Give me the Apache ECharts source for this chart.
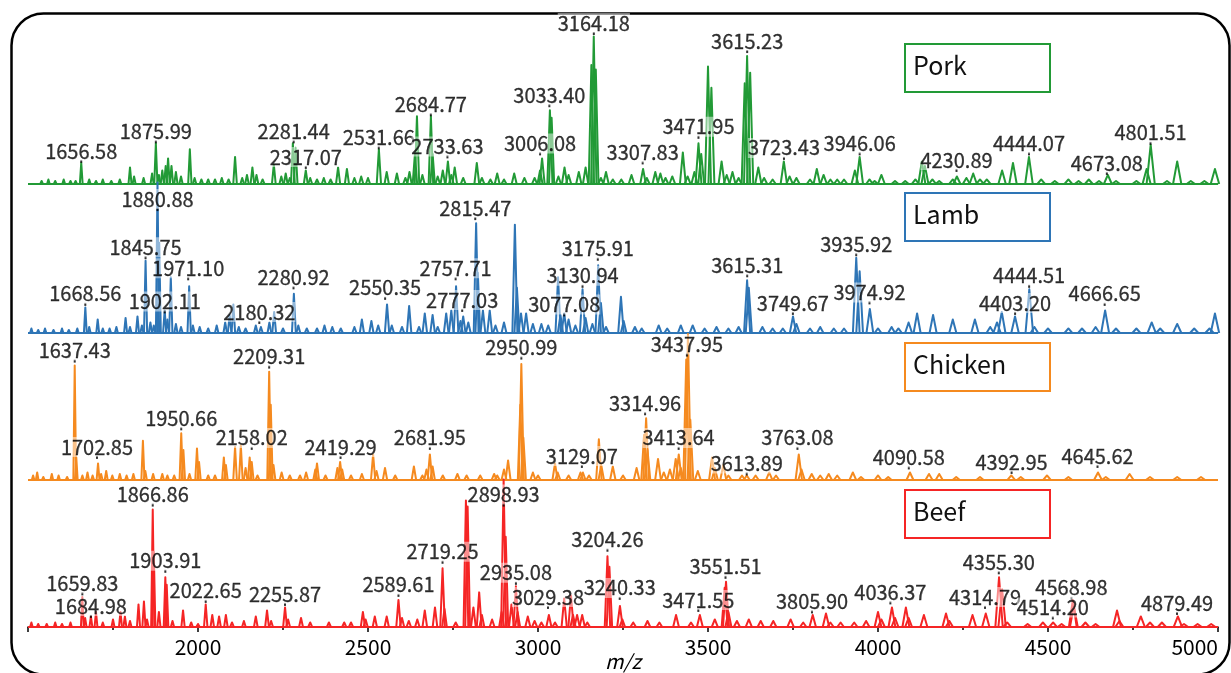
<!DOCTYPE html>
<html>
<head>
<meta charset="utf-8">
<title>MALDI-TOF spectra of meat</title>
<script src="https://cdn.jsdelivr.net/npm/echarts@6/dist/echarts.min.js"></script>
<style>
  html, body { margin: 0; padding: 0; background: #fff; }
  #chart { width: 1231px; height: 673px; }
</style>
</head>
<body>
<div id="chart"></div>
<script>
// m/z axis
var xMin = 1500, xMax = 5000, xStep = 500;

var sampleNames = ['Pork', 'Lamb', 'Chicken', 'Beef'];

// peaks as [m/z, relative intensity]
var porkPeaks = [[1540,2],[1560,3],[1580,2],[1605,3],[1625,2],[1640,2],[1656.6,14],[1680,3],[1700,2],[1720,3],[1745,2],[1770,3],
  [1800,11],[1812,5],[1840,4],[1865,7],[1876,27],[1885,6],[1895,9],[1905,12],[1912,17],[1922,12],[1935,8],[1950,5],[1976,23],
  [1990,4],[2010,3],[2030,3],[2050,3],[2070,4],[2090,3],[2109,18],[2130,4],[2144,6],[2160,11],[2172,6],[2190,3],[2223,13],
  [2245,5],[2258,7],[2270,4],[2279,27],[2287,24],[2317,9],[2330,4],[2350,3],[2370,4],[2390,3],[2412,11],[2438,10],[2460,4],
  [2480,5],[2500,4],[2532,23],[2555,8],[2585,7],[2610,4],[2622,8],[2638,20],[2644,45],[2660,6],[2685,45],[2690,20],[2705,5],
  [2720,9],[2735,15],[2745,6],[2755,11],[2780,4],[2820,14],[2835,4],[2860,3],[2880,7],[2900,3],[2930,7],[2960,4],[2990,4],
  [3006,9],[3012,17],[3035,49],[3040,44],[3060,5],[3078,11],[3090,6],[3120,8],[3140,11],[3157,79],[3164,98],[3170,76],[3185,4],
  [3200,8],[3220,3],[3245,3],[3275,6],[3309,10],[3320,4],[3345,8],[3360,7],[3375,4],[3395,5],[3426,21],[3440,5],[3460,8],
  [3472,27],[3480,20],[3500,78],[3510,64],[3540,15],[3555,6],[3572,8],[3590,4],[3608,67],[3615,85],[3624,74],[3648,11],
  [3665,4],[3690,3],[3723,15],[3740,5],[3760,4],[3800,3],[3820,10],[3840,6],[3860,3],[3880,3],[3900,3],[3932,9],[3946,18],
  [3975,3],[3990,2],[4010,6],[4050,2],[4080,2],[4110,3],[4129,15],[4138,12],[4160,3],[4180,2],[4220,3],[4232,5],[4260,4],
  [4280,7],[4300,3],[4320,3],[4365,9],[4397,14],[4444,18],[4480,3],[4520,2],[4560,3],[4590,2],[4620,3],[4650,2],[4676,6],
  [4700,2],[4760,2],[4790,10],[4802,26],[4850,2],[4880,15],[4920,2],[4960,2],[4991,10]];
var lambPeaks = [[1510,3],[1530,2],[1550,3],[1575,2],[1600,3],[1620,2],[1645,3],[1668.6,17],[1680,4],[1705,9],[1720,3],[1740,3],
  [1760,4],[1787,10],[1800,4],[1822,11],[1835,5],[1845.8,48],[1860,7],[1870,5],[1880.9,100],[1886,60],[1902,15],[1910,9],
  [1920,37],[1935,6],[1950,4],[1974,31],[1985,5],[2005,4],[2030,3],[2055,5],[2080,7],[2093,12],[2104,19],[2120,4],[2140,3],
  [2170,5],[2185,4],[2210,7],[2224,14],[2250,3],[2282,26],[2295,5],[2320,3],[2350,3],[2372,5],[2395,4],[2420,3],[2460,4],
  [2482,9],[2510,8],[2530,5],[2556,19],[2570,5],[2600,4],[2621,18],[2650,4],[2667,13],[2690,12],[2705,4],[2730,13],[2745,15],
  [2759,31],[2772,8],[2780,11],[2795,7],[2818,73],[2823,40],[2838,15],[2858,15],[2875,5],[2900,7],[2932,72],[2938,30],
  [2950,13],[2965,13],[2985,6],[3010,6],[3030,5],[3059,37],[3066,12],[3077,13],[3090,9],[3110,5],[3131,29],[3140,10],[3160,6],
  [3177,45],[3185,20],[3200,4],[3244,24],[3252,8],[3285,4],[3305,3],[3355,5],[3380,3],[3420,5],[3455,5],[3490,3],[3525,4],
  [3560,3],[3590,4],[3615,35],[3620,30],[3660,4],[3690,3],[3720,3],[3750,11],[3760,6],[3800,3],[3830,4],[3870,3],[3900,3],
  [3936,50],[3946,41],[3976,16],[4000,3],[4040,4],[4060,3],[4090,7],[4115,13],[4162,12],[4220,9],[4285,9],[4330,4],[4350,7],
  [4364,14],[4403,11],[4445,29],[4460,4],[4500,3],[4560,3],[4600,3],[4640,4],[4668,15],[4700,3],[4760,3],[4805,7],[4830,3],
  [4880,6],[4930,3],[4975,3],[4991,13]];
var chickenPeaks = [[1515,3],[1527,5],[1545,2],[1570,4],[1590,3],[1615,2],[1637.4,76],[1642,15],[1660,3],[1675,5],[1690,3],
  [1706,11],[1715,4],[1730,6],[1748,3],[1770,4],[1790,3],[1810,4],[1838,26],[1845,6],[1868,4],[1895,4],[1910,3],[1930,3],
  [1950.7,31],[1957,20],[1975,4],[1997,21],[2003,12],[2030,3],[2050,3],[2076,15],[2082,10],[2109,22],[2126,23],[2140,8],
  [2152,15],[2158,12],[2175,3],[2209.3,72],[2214,50],[2222,10],[2246,5],[2270,3],[2300,3],[2318,5],[2345,7],[2350,11],
  [2375,3],[2410,8],[2418,12],[2424,7],[2450,3],[2482,4],[2515,17],[2525,6],[2550,8],[2580,3],[2635,9],[2660,3],[2672,7],
  [2682,17],[2690,9],[2720,3],[2763,4],[2790,3],[2830,3],[2871,4],[2880,3],[2900,7],[2912,13],[2948,50],[2951,77],[2957,28],
  [2985,5],[3000,3],[3050,11],[3058,5],[3090,3],[3125,5],[3132,5],[3150,3],[3179,27],[3186,10],[3220,9],[3250,3],[3290,8],
  [3312,30],[3318,41],[3322,20],[3353,14],[3370,5],[3388,7],[3405,14],[3414,17],[3420,8],[3436,80],[3441,97],[3448,40],
  [3470,6],[3512,15],[3520,8],[3545,10],[3560,3],[3600,3],[3614,3],[3640,3],[3680,5],[3700,3],[3767,17],[3775,7],[3805,4],
  [3830,3],[3855,4],[3880,3],[3926,5],[3950,2],[4000,3],[4030,2],[4094,5],[4150,4],[4180,4],[4230,2],[4300,2],[4392,3],
  [4420,2],[4497,3],[4560,2],[4647,5],[4670,2],[4740,4],[4800,2],[4880,2],[4950,2]];
var beefPeaks = [[1510,3],[1530,2],[1555,2],[1580,3],[1600,2],[1625,3],[1659.8,20],[1668,6],[1685,7],[1700,10],[1720,3],
  [1750,5],[1772,10],[1785,7],[1800,4],[1825,15],[1841,17],[1850,5],[1866.9,78],[1870,50],[1885,10],[1903.9,33],[1908,28],
  [1925,4],[1956,11],[1980,3],[2000,2],[2022.7,15],[2042,8],[2062,7],[2082,8],[2100,3],[2135,4],[2170,7],[2203,11],[2215,4],
  [2256,13],[2265,5],[2303,6],[2330,3],[2385,3],[2430,3],[2450,3],[2485,10],[2493,5],[2520,7],[2555,7],[2589.6,18],[2600,6],
  [2620,4],[2645,5],[2667,11],[2697,13],[2719.3,39],[2725,12],[2758,3],[2788,84],[2793,80],[2810,13],[2827,23],[2835,8],
  [2865,5],[2893,10],[2898.9,98],[2905,60],[2922,15],[2935,27],[2940,10],[2970,7],[2990,4],[3010,3],[3032,8],[3050,3],
  [3077,19],[3097,21],[3103,8],[3115,8],[3130,8],[3145,3],[3204.3,47],[3210,40],[3241,14],[3248,5],[3280,3],[3322,4],
  [3357,3],[3406,8],[3450,3],[3476,8],[3520,5],[3549,26],[3553,30],[3560,10],[3585,4],[3620,5],[3655,4],[3692,4],[3743,5],
  [3780,3],[3808,8],[3847,9],[3860,3],[3890,3],[3930,3],[3965,4],[4000,10],[4010,5],[4041,13],[4050,6],[4082,13],[4090,6],
  [4135,8],[4200,9],[4210,4],[4278,8],[4317,9],[4356,33],[4365,25],[4380,3],[4440,2],[4485,3],[4515,3],[4540,2],[4573,18],
  [4576,14],[4610,3],[4640,2],[4703,11],[4710,4],[4773,7],[4800,3],[4835,3],[4882,7],[4900,2],[4940,2],[4980,2]];

// labelled peaks as [m/z, intensity where the marker sits]
var porkLabels = [[1656.58,15],[1875.99,28],[2281.44,28],[2317.07,11],[2531.66,24],[2684.77,46],[2733.63,18],[3006.08,20],
  [3033.40,52],[3164.18,100],[3307.83,14],[3471.95,31],[3615.23,88],[3723.43,17],[3946.06,20],[4230.89,9],[4444.07,20],
  [4673.08,7],[4801.51,27]];
var lambLabels = [[1668.56,19],[1845.75,50],[1880.88,82],[1902.11,14],[1971.10,36],[2180.32,7],[2280.92,30],[2550.35,23],
  [2757.71,36],[2777.03,15],[2815.47,76],[3077.08,12],[3130.94,31],[3175.91,49],[3615.31,38],[3749.67,13],[3935.92,52],
  [3974.92,20],[4403.20,13],[4444.51,31],[4666.65,19]];
var chickenLabels = [[1637.43,79],[1702.85,15],[1950.66,34],[2158.02,21],[2209.31,75],[2419.29,15],[2681.95,21],[2950.99,81],
  [3129.07,9],[3314.96,44],[3413.64,21],[3437.95,83],[3613.89,4],[3763.08,21],[4090.58,8],[4392.95,5],[4645.62,9]];
var beefLabels = [[1659.83,22],[1684.98,7],[1866.86,81],[1903.91,37],[2022.65,17],[2255.87,15],[2589.61,21],[2719.25,43],
  [2898.93,81],[2935.08,29],[3029.38,13],[3204.26,51],[3240.33,19],[3471.55,11],[3551.51,33],[3805.90,10],[4036.37,16],
  [4314.79,13],[4355.30,36],[4514.20,6],[4568.98,19],[4879.49,9]];

var peakSets = [porkPeaks, lambPeaks, chickenPeaks, beefPeaks];
var labelSets = [porkLabels, lambLabels, chickenLabels, beefLabels];

var colors = ['#229a36', '#2e75b6', '#f58a1f', '#f52525'];
var font = '"Noto Sans CJK JP", "Noto Sans", sans-serif';
var gridTops = [33.5, 182.5, 329.5, 476.5];
var boxTops = [43, 192, 342, 489];

// each peak is drawn as a narrow spike on the baseline
function spikes(color) {
  return function (params, api) {
    var mz = api.value(0), h = api.value(1), w = mz * 0.0025;
    var kids = [{
      type: 'polyline',
      shape: { points: [api.coord([mz - w, 0]), api.coord([mz, h]), api.coord([mz + w, 0])] },
      style: { stroke: color, lineWidth: 2, fill: null, lineJoin: 'round' }
    }];
    if (params.dataIndex === 0) {
      var a = api.coord([xMin, 0]), b = api.coord([xMax, 0]);
      kids.unshift({
        type: 'line',
        shape: { x1: a[0], y1: a[1], x2: b[0], y2: b[1] },
        style: { stroke: color, lineWidth: 2 }
      });
    }
    return { type: 'group', children: kids };
  };
}

var grids = [], xAxes = [], yAxes = [], series = [], graphics = [];

for (var i = 0; i < 4; i++) {
  var last = i === 3;
  grids.push({ left: 28, right: 13, top: gridTops[i], height: 155, outerBoundsMode: 'none', containLabel: false });
  xAxes.push({
    gridIndex: i, type: 'value', min: xMin, max: xMax, interval: xStep, show: last,
    name: last ? 'm/z' : '', nameLocation: 'middle', nameGap: 20, nameMoveOverlap: false,
    nameTextStyle: { fontStyle: 'italic', fontSize: 20, color: '#000', fontFamily: font, verticalAlign: 'top' },
    axisLine: { lineStyle: { color: '#000', width: 1.5 } },
    axisTick: { show: true, length: 5, lineStyle: { color: '#000', width: 1.5 } },
    minorTick: { show: true, splitNumber: 2, length: 3, lineStyle: { color: '#000', width: 1.5 } },
    axisLabel: {
      showMinLabel: false, alignMaxLabel: 'right', fontSize: 21, color: '#000', fontFamily: font, margin: 5,
      formatter: function (v) { return String(v); }
    },
    splitLine: { show: false }
  });
  yAxes.push({ gridIndex: i, type: 'value', min: -3, max: 100, show: false });

  series.push({
    type: 'custom', name: sampleNames[i], xAxisIndex: i, yAxisIndex: i,
    data: peakSets[i], renderItem: spikes(colors[i]), clip: false, silent: true, z: 2
  });
  series.push({
    type: 'scatter', xAxisIndex: i, yAxisIndex: i, data: labelSets[i],
    symbol: 'rect', symbolSize: [2, 3], itemStyle: { color: '#000' }, silent: true, z: 5,
    label: {
      show: true, position: 'top', distance: -1,
      formatter: function (p) { return p.value[0].toFixed(2); },
      fontSize: 20, lineHeight: 20, color: '#000', fontFamily: font,
      textBorderColor: '#000', textBorderWidth: 0.3,
      backgroundColor: 'rgba(255,255,255,0.6)'
    }
  });

  graphics.push({
    type: 'rect', left: 904, top: boxTops[i], z: 10,
    shape: { width: 145, height: 48 },
    style: { fill: '#fff', stroke: colors[i], lineWidth: 2 }
  });
  graphics.push({
    type: 'text', left: 913, top: boxTops[i] + 10, z: 11,
    style: { text: sampleNames[i], font: '25px ' + font, fill: '#111' }
  });
}

// rounded frame around the whole figure
graphics.push({
  type: 'rect', left: 9, top: 11, z: 0,
  shape: { width: 1218, height: 661, r: 32 },
  style: { fill: null, stroke: '#000', lineWidth: 2.5 }
});

var chart = echarts.init(document.getElementById('chart'));
chart.setOption({
  animation: false,
  backgroundColor: '#fff',
  grid: grids,
  xAxis: xAxes,
  yAxis: yAxes,
  series: series,
  graphic: graphics
});
</script>
</body>
</html>
